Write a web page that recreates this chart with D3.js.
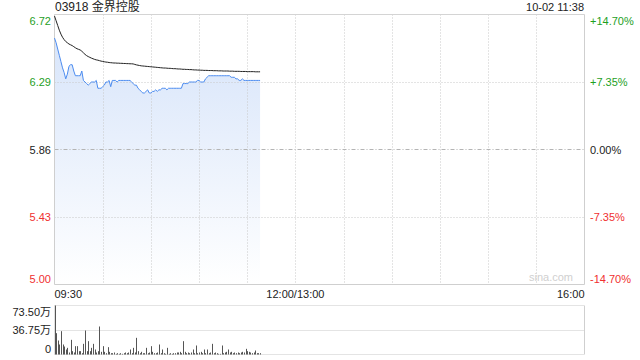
<!DOCTYPE html>
<html><head><meta charset="utf-8">
<script src="https://cdn.jsdelivr.net/npm/d3@7"></script>
<style>
html,body{margin:0;padding:0;background:#fff;}
svg{display:block;font-family:"Liberation Sans",Arial,sans-serif;}
</style></head>
<body>
<svg id="c" width="640" height="360"></svg>
<script>
const title = "03918 金界控股";
const stamp = "10-02 11:38";
const prevClose = 5.86;
const priceTicks = [6.72, 6.29, 5.86, 5.43, 5.00];
const pctTicks = ["+14.70%", "+7.35%", "0.00%", "-7.35%", "-14.70%"];
const timeTickMinutes = [0, 150, 330];
const timeTickLabels = ["09:30", "12:00/13:00", "16:00"];
const gridMinutes = [30, 60, 90, 120, 150, 180, 210, 240, 270, 300];
const volTicks = [73.5, 36.75, 0];
const volTickLabels = ["73.50万", "36.75万", "0"];

const price = [6.57,6.54,6.50,6.46,6.42,6.38,6.35,6.31,6.34,6.39,6.40,6.40,6.36,6.33,6.33,6.33,6.33,6.36,6.30,6.29,
6.28,6.27,6.28,6.29,6.29,6.29,6.30,6.25,6.25,6.25,6.26,6.27,6.29,6.29,6.30,6.26,6.30,6.30,6.30,6.29,
6.30,6.30,6.30,6.30,6.30,6.30,6.30,6.30,6.29,6.28,6.27,6.27,6.25,6.24,6.23,6.22,6.22,6.23,6.24,6.22,
6.22,6.23,6.23,6.24,6.23,6.24,6.24,6.25,6.25,6.25,6.24,6.25,6.25,6.25,6.25,6.25,6.25,6.25,6.25,6.25,
6.28,6.28,6.28,6.28,6.29,6.29,6.29,6.29,6.29,6.30,6.30,6.29,6.29,6.29,6.31,6.32,6.33,6.33,6.33,6.33,
6.33,6.33,6.33,6.33,6.33,6.33,6.33,6.33,6.33,6.33,6.32,6.32,6.32,6.31,6.31,6.30,6.30,6.31,6.30,6.30,
6.30,6.30,6.30,6.30,6.30,6.30,6.30,6.30,6.30];

const avgPrice = [6.710,6.680,6.650,6.620,6.595,6.575,6.560,6.548,6.540,6.532,6.527,6.522,6.515,6.508,6.502,6.498,6.494,6.486,6.476,6.466,
6.458,6.452,6.447,6.442,6.438,6.434,6.431,6.429,6.426,6.423,6.421,6.419,6.417,6.416,6.414,6.413,6.412,6.411,6.411,6.410,
6.410,6.409,6.409,6.408,6.408,6.407,6.407,6.406,6.406,6.405,6.402,6.399,6.397,6.395,6.393,6.392,6.391,6.390,6.389,6.388,
6.387,6.386,6.385,6.384,6.383,6.382,6.381,6.380,6.379,6.379,6.378,6.377,6.377,6.376,6.375,6.375,6.374,6.373,6.373,6.372,
6.371,6.371,6.370,6.370,6.369,6.369,6.368,6.367,6.367,6.366,6.366,6.365,6.365,6.364,6.364,6.364,6.363,6.363,6.363,6.362,
6.362,6.362,6.361,6.361,6.361,6.360,6.360,6.360,6.360,6.359,6.359,6.359,6.358,6.358,6.358,6.358,6.357,6.357,6.357,6.357,
6.356,6.356,6.356,6.356,6.356,6.355,6.355,6.355,6.355];

const volume = [73.5,32,21,15,35,15,12,7.5,10,3,22,5,3,12.5,12.5,5,5,2,16,36,
5,20,5,10,16,7.5,3,5,42,4,12.5,4,2,11,4,2,2,3,1,2,
1,2,1,2,3,2,3,7.5,2,10,3,25,5,2,4,2,2,10,2,3,
12.5,4,2,2,3,15,2,7.5,2,1,10,1,2,1,2,2,3,3,4,2,
20,4,2,3,2,3,7.5,2,13.5,2,3,4,2,7.5,2,7.5,2,3,16,2,
3,2,1,1,13.5,2,3,4,7.5,3,4,2,3,2,3,2,3,4,3,8.5,
5,4,3,2,3,6,2,2,2];

const svg = d3.select("#c");
const L = 54.5, R = 584.5, T = 14.5, B = 284.5;
const VT = 305.5, VB = 354.5;
const green = "#1ea01e", red = "#f03030", textc = "#222";

const x = d3.scaleLinear().domain([0, 330]).range([L, R]);
const y = d3.scaleLinear().domain([5.00, 6.72]).range([B, T]);
const yv = d3.scaleLinear().domain([0, 73.5]).range([VB, VT]);

function labelColor(v){ return v > prevClose + 1e-9 ? green : (v < prevClose - 1e-9 ? red : textc); }
// label vertical nudges: first label sits inside the top, last inside the bottom
function nudge(i, n){ return i === 0 ? 6 : (i === n - 1 ? -6 : 0); }

// gradient
const defs = svg.append("defs");
const g = defs.append("linearGradient").attr("id","ag").attr("x1",0).attr("x2",0).attr("y1",0).attr("y2",1);
g.append("stop").attr("offset","0%").attr("stop-color","#d8e5fa");
g.append("stop").attr("offset","100%").attr("stop-color","#ffffff");

// area
const idx = d3.range(price.length);
svg.append("path").datum(idx)
  .attr("fill","url(#ag)")
  .attr("d", d3.area().x(i=>x(i)).y0(B).y1(i=>y(price[i]))(idx));

// vertical grid
svg.append("g").selectAll("line").data(gridMinutes).join("line")
  .attr("x1",m=>Math.round(x(m))+0.5).attr("x2",m=>Math.round(x(m))+0.5)
  .attr("y1",T).attr("y2",B)
  .attr("stroke","#c8c8c8").attr("stroke-dasharray","1,2");

// horizontal grid
svg.append("g").selectAll("line").data(priceTicks.slice(1,4)).join("line")
  .attr("x1",L).attr("x2",R)
  .attr("y1",v=>Math.round(y(v))+0.5).attr("y2",v=>Math.round(y(v))+0.5)
  .attr("stroke",v=>v===prevClose?"#b4b4b4":"#c8c8c8")
  .attr("stroke-dasharray",v=>v===prevClose?"4,2,1,2":"1,2");

// border
svg.append("line").attr("x1",L).attr("x2",R).attr("y1",T).attr("y2",T).attr("stroke","#d4d4d4");
svg.append("line").attr("x1",L).attr("x2",R).attr("y1",B).attr("y2",B).attr("stroke","#cfcfcf");
svg.append("line").attr("x1",L).attr("x2",L).attr("y1",T).attr("y2",B).attr("stroke","#cfcfcf");
svg.append("line").attr("x1",R).attr("x2",R).attr("y1",T).attr("y2",B).attr("stroke","#cfcfcf");

// watermark
svg.append("text").attr("x",573).attr("y",281).attr("text-anchor","end")
  .attr("font-size",11).attr("fill","#d0d0d0").text("sina.com");

// lines
svg.append("path").datum(idx).attr("fill","none").attr("stroke","#222").attr("stroke-width",1)
  .attr("d", d3.line().x(i=>x(i)).y(i=>y(avgPrice[i]))(idx));
svg.append("path").datum(idx).attr("fill","none").attr("stroke","#4c8cf0").attr("stroke-width",1)
  .attr("d", d3.line().x(i=>x(i)).y(i=>y(price[i]))(idx));

// left labels
svg.append("g").selectAll("text").data(priceTicks).join("text")
  .attr("x",51).attr("y",(v,i)=>y(v)+4+nudge(i,priceTicks.length)).attr("text-anchor","end")
  .attr("font-size",11).attr("fill",v=>labelColor(v)).text(v=>v.toFixed(2));
// right labels
svg.append("g").selectAll("text").data(pctTicks).join("text")
  .attr("x",590).attr("y",(d,i)=>y(priceTicks[i])+4+nudge(i,pctTicks.length))
  .attr("font-size",11).attr("fill",(d,i)=>labelColor(priceTicks[i])).text(d=>d);

// time labels
svg.append("g").selectAll("text").data(timeTickMinutes).join("text")
  .attr("x",(m,i)=> i===0 ? L : (i===timeTickMinutes.length-1 ? R : x(m)))
  .attr("y",298)
  .attr("text-anchor",(m,i)=> i===0?"start":(i===timeTickMinutes.length-1?"end":"middle"))
  .attr("font-size",11).attr("fill",textc).text((m,i)=>timeTickLabels[i]);

// title and stamp
svg.append("text").attr("x",55).attr("y",11).attr("font-size",12).attr("fill",textc)
  .attr("font-family","'Liberation Sans','Noto Sans CJK SC',sans-serif").text(title);
svg.append("text").attr("x",584).attr("y",11).attr("text-anchor","end").attr("font-size",11).attr("fill",textc).text(stamp);

// volume panel grid
svg.append("g").selectAll("line").data(volTicks).join("line")
  .attr("x1",L).attr("x2",R)
  .attr("y1",v=>Math.round(yv(v)-0.5)+0.5).attr("y2",v=>Math.round(yv(v)-0.5)+0.5)
  .attr("stroke","#c8c8c8").attr("stroke-dasharray","1,1");
svg.append("line").attr("x1",R).attr("x2",R).attr("y1",VT).attr("y2",VB).attr("stroke","#cfcfcf");
svg.append("line").attr("x1",L).attr("x2",L).attr("y1",VT).attr("y2",VB).attr("stroke","#e0e0e0");

// volume bars
svg.append("g").selectAll("rect").data(idx).join("rect")
  .attr("x",i=>Math.round(x(i))).attr("width",1)
  .attr("y",i=>yv(volume[i])).attr("height",i=>VB-yv(volume[i]))
  .attr("fill","#555");

// volume labels
svg.append("g").selectAll("text").data(volTicks).join("text")
  .attr("x",51).attr("y",(v,i)=>yv(v)+4+nudge(i,volTicks.length)).attr("text-anchor","end")
  .attr("font-size",11).attr("fill",textc)
  .attr("font-family","'Liberation Sans','Noto Sans CJK SC',sans-serif")
  .text((v,i)=>volTickLabels[i]);
</script>
</body></html>
